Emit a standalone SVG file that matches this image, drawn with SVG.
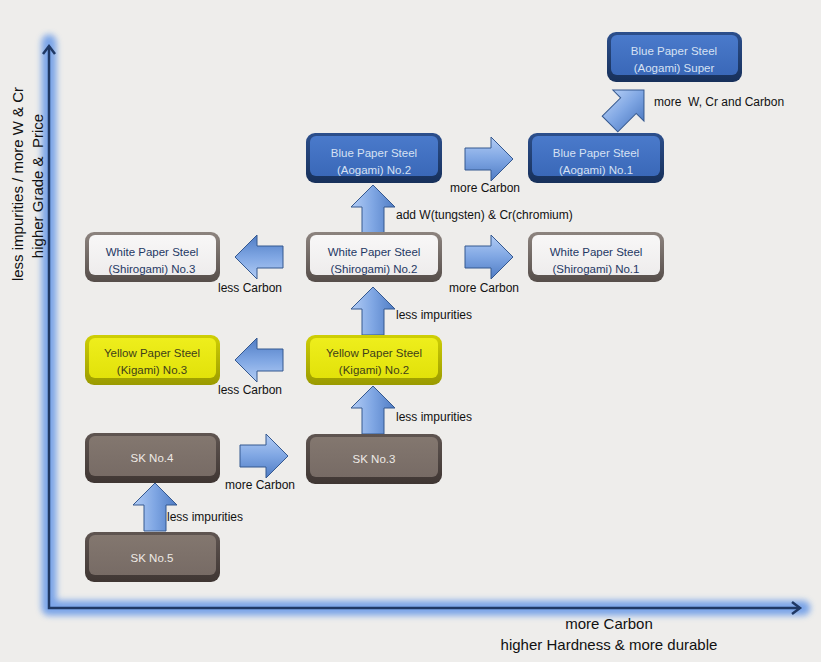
<svg xmlns="http://www.w3.org/2000/svg" xmlns:xlink="http://www.w3.org/1999/xlink" width="821" height="662" viewBox="0 0 821 662">
<style>
  text { font-family: "Liberation Sans", Arial, sans-serif; }
  .nt { font-size: 11.5px; text-anchor: middle; }
  .lb { font-size: 12px; fill: #111; }
  .ax { font-size: 15px; fill: #111; }
  .axv { font-size: 15px; fill: #111; text-anchor: middle; }
  .blue .o { fill: url(#gBlueO); }
  .blue .i { fill: url(#gBlueI); }
  .blue text { fill: #d6e1f3; }
  .white .o { fill: url(#gWhiteO); }
  .white .i { fill: url(#gWhiteI); }
  .white text { fill: #1f3864; }
  .yellow .o { fill: url(#gYelO); }
  .yellow .i { fill: url(#gYelI); }
  .yellow text { fill: #3e3e1a; }
  .sk .o { fill: url(#gSkO); }
  .sk .i { fill: url(#gSkI); }
  .sk text { fill: #eeeae6; }
  .arr { fill: url(#gArr); stroke: #34588f; stroke-width: 1; }
</style>
<defs>
  <linearGradient id="gBlueO" x1="0" y1="0" x2="0" y2="1"><stop offset="0" stop-color="#2c4f8c"/><stop offset="1" stop-color="#17305a"/></linearGradient>
  <linearGradient id="gBlueI" x1="0" y1="0" x2="0" y2="1"><stop offset="0" stop-color="#4a7acb"/><stop offset="1" stop-color="#3a68b8"/></linearGradient>
  <linearGradient id="gWhiteO" x1="0" y1="0" x2="0" y2="1"><stop offset="0" stop-color="#8d847f"/><stop offset="1" stop-color="#564e4a"/></linearGradient>
  <linearGradient id="gWhiteI" x1="0" y1="0" x2="0" y2="1"><stop offset="0" stop-color="#f8f7f7"/><stop offset="1" stop-color="#eeecec"/></linearGradient>
  <linearGradient id="gYelO" x1="0" y1="0" x2="0" y2="1"><stop offset="0" stop-color="#cfcf05"/><stop offset="1" stop-color="#9a9a00"/></linearGradient>
  <linearGradient id="gYelI" x1="0" y1="0" x2="0" y2="1"><stop offset="0" stop-color="#eeee1c"/><stop offset="1" stop-color="#e2e20a"/></linearGradient>
  <linearGradient id="gSkO" x1="0" y1="0" x2="0" y2="1"><stop offset="0" stop-color="#5f5551"/><stop offset="1" stop-color="#3f3633"/></linearGradient>
  <linearGradient id="gSkI" x1="0" y1="0" x2="0" y2="1"><stop offset="0" stop-color="#83776f"/><stop offset="1" stop-color="#776b65"/></linearGradient>
  <linearGradient id="gArr" x1="0" y1="0" x2="0" y2="1"><stop offset="0" stop-color="#b3cdf5"/><stop offset="0.5" stop-color="#7fa6e3"/><stop offset="1" stop-color="#4f7cc4"/></linearGradient>
  <filter id="glow" x="-20%" y="-20%" width="140%" height="140%"><feGaussianBlur stdDeviation="3"/></filter>
  <polygon id="ra" class="arr" points="-24,-11 2,-11 2,-22 24,0 2,22 2,11 -24,11"/>
</defs>
<rect width="821" height="662" fill="#eeedeb"/>

<g id="axes">
  <path d="M49,42 V608 H803" fill="none" stroke="#6e9de8" stroke-width="15" stroke-linecap="round" stroke-linejoin="round" filter="url(#glow)" opacity="0.9"/>
  <path d="M49,46 V608 H800" fill="none" stroke="#1f3864" stroke-width="2.5"/>
  <polyline points="43,54 49,46 55,54" fill="none" stroke="#1f3864" stroke-width="2.5"/>
  <polyline points="792,602 800,608 792,614" fill="none" stroke="#1f3864" stroke-width="2.5"/>
  <text class="axv" transform="translate(23,184) rotate(-90)">less impurities / more W &amp; Cr</text>
  <text class="axv" transform="translate(43,186) rotate(-90)">higher Grade &amp;&#160; Price</text>
  <text class="ax" x="609" y="629" text-anchor="middle">more Carbon</text>
  <text class="ax" x="609" y="650" text-anchor="middle">higher Hardness &amp; more durable</text>
</g>

<g id="connectors">
  <use xlink:href="#ra" href="#ra" transform="translate(627,107) rotate(-45)"/>
  <use xlink:href="#ra" href="#ra" transform="translate(489,159)"/>
  <use xlink:href="#ra" href="#ra" transform="translate(373,209) rotate(-90)"/>
  <use xlink:href="#ra" href="#ra" transform="translate(259,257) rotate(180)"/>
  <use xlink:href="#ra" href="#ra" transform="translate(489,257)"/>
  <use xlink:href="#ra" href="#ra" transform="translate(373,311) rotate(-90)"/>
  <use xlink:href="#ra" href="#ra" transform="translate(259,360) rotate(180)"/>
  <use xlink:href="#ra" href="#ra" transform="translate(373,410) rotate(-90)"/>
  <use xlink:href="#ra" href="#ra" transform="translate(264,456)"/>
  <use xlink:href="#ra" href="#ra" transform="translate(155,507) rotate(-90)"/>
  <text class="lb" x="654" y="106">more&#160; W, Cr and Carbon</text>
  <text class="lb" x="450" y="192">more Carbon</text>
  <text class="lb" x="396" y="219">add W(tungsten) &amp; Cr(chromium)</text>
  <text class="lb" x="218" y="292">less Carbon</text>
  <text class="lb" x="449" y="292">more Carbon</text>
  <text class="lb" x="396" y="319">less impurities</text>
  <text class="lb" x="218" y="394">less Carbon</text>
  <text class="lb" x="396" y="421">less impurities</text>
  <text class="lb" x="225" y="489">more Carbon</text>
  <text class="lb" x="167" y="521">less impurities</text>
</g>

<g id="blue-super" class="blue">
  <rect class="o" x="607" y="32" width="135" height="50" rx="9"/>
  <rect class="i" x="611" y="35" width="127" height="40" rx="6"/>
  <text class="nt" x="674" y="55">Blue Paper Steel</text>
  <text class="nt" x="674" y="72">(Aogami) Super</text>
</g>
<g id="blue-no2" class="blue">
  <rect class="o" x="306" y="133" width="136" height="50" rx="9"/>
  <rect class="i" x="310" y="136" width="128" height="40" rx="6"/>
  <text class="nt" x="374" y="157">Blue Paper Steel</text>
  <text class="nt" x="374" y="174">(Aogami) No.2</text>
</g>
<g id="blue-no1" class="blue">
  <rect class="o" x="528" y="133" width="136" height="50" rx="9"/>
  <rect class="i" x="532" y="136" width="128" height="40" rx="6"/>
  <text class="nt" x="596" y="157">Blue Paper Steel</text>
  <text class="nt" x="596" y="174">(Aogami) No.1</text>
</g>
<g id="white-no3" class="white">
  <rect class="o" x="85" y="232" width="135" height="50" rx="9"/>
  <rect class="i" x="89" y="235" width="127" height="40" rx="6"/>
  <text class="nt" x="152" y="256">White Paper Steel</text>
  <text class="nt" x="152" y="273">(Shirogami) No.3</text>
</g>
<g id="white-no2" class="white">
  <rect class="o" x="306" y="232" width="136" height="50" rx="9"/>
  <rect class="i" x="310" y="235" width="128" height="40" rx="6"/>
  <text class="nt" x="374" y="256">White Paper Steel</text>
  <text class="nt" x="374" y="273">(Shirogami) No.2</text>
</g>
<g id="white-no1" class="white">
  <rect class="o" x="528" y="232" width="136" height="50" rx="9"/>
  <rect class="i" x="532" y="235" width="128" height="40" rx="6"/>
  <text class="nt" x="596" y="256">White Paper Steel</text>
  <text class="nt" x="596" y="273">(Shirogami) No.1</text>
</g>
<g id="yellow-no3" class="yellow">
  <rect class="o" x="85" y="335" width="135" height="50" rx="9"/>
  <rect class="i" x="89" y="338" width="127" height="40" rx="6"/>
  <text class="nt" x="152" y="357">Yellow Paper Steel</text>
  <text class="nt" x="152" y="374">(Kigami) No.3</text>
</g>
<g id="yellow-no2" class="yellow">
  <rect class="o" x="306" y="335" width="136" height="50" rx="9"/>
  <rect class="i" x="310" y="338" width="128" height="40" rx="6"/>
  <text class="nt" x="374" y="357">Yellow Paper Steel</text>
  <text class="nt" x="374" y="374">(Kigami) No.2</text>
</g>
<g id="sk-no4" class="sk">
  <rect class="o" x="85" y="433" width="135" height="50" rx="9"/>
  <rect class="i" x="89" y="436" width="127" height="40" rx="6"/>
  <text class="nt" x="152" y="462">SK No.4</text>
</g>
<g id="sk-no3" class="sk">
  <rect class="o" x="306" y="434" width="136" height="50" rx="9"/>
  <rect class="i" x="310" y="437" width="128" height="40" rx="6"/>
  <text class="nt" x="374" y="463">SK No.3</text>
</g>
<g id="sk-no5" class="sk">
  <rect class="o" x="85" y="532" width="135" height="50" rx="9"/>
  <rect class="i" x="89" y="535" width="127" height="40" rx="6"/>
  <text class="nt" x="152" y="562">SK No.5</text>
</g>
</svg>
